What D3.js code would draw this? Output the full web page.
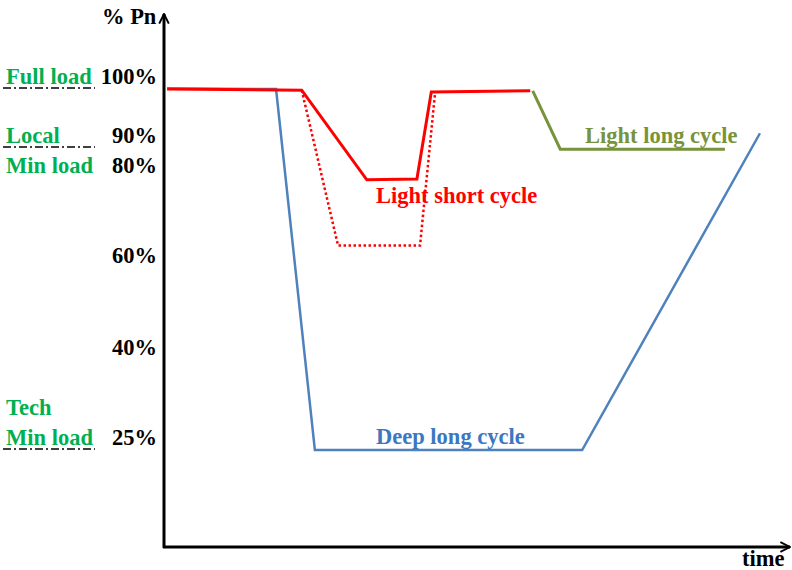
<!DOCTYPE html>
<html>
<head>
<meta charset="utf-8">
<script src="https://cdn.jsdelivr.net/npm/d3@7"></script>
<style>
  body { margin: 0; background: #fff; }
  svg { font-family: "Liberation Serif", "Times New Roman", serif; font-weight: bold; }
</style>
</head>
<body>
<svg id="chart" width="792" height="570"></svg>
<script>
// % of nominal power, y ticks
var tickValues = [25, 40, 60, 80, 90, 100];

// time (arbitrary units 0..100), load in % Pn
var lightShortT = [0.5, 22, 32.4, 40.4, 42.7, 58.5];
var lightShortV = [100, 99.8, 79.6, 79.8, 99.5, 99.7];

var lightShortAltT = [22, 27.8, 40.9, 43.3];
var lightShortAltV = [99.8, 65, 65, 99.3];

var lightLongT = [58.9, 63.3, 89.6];
var lightLongV = [99.7, 89.6, 89.6];

var deepLongT = [0.5, 17.9, 24.1, 66.8, 95.2];
var deepLongV = [100.1, 100, 25, 25, 92.5];

var levelNames = [["Full load"], ["Local", "Min load"], ["Tech", "Min load"]];
var levelValues = [100, 90, 25];

var svg = d3.select("#chart");
var fs = 22.5;

var x = d3.scaleLinear().domain([0, 100]).range([164, 790]);
// the original axis is not drawn to scale, piecewise mapping
var y = d3.scaleLinear()
    .domain([0, 25, 40, 60, 80, 90, 100])
    .range([547, 450, 360, 268, 178, 148, 89]);

function zip(t, v) {
    return t.map(function (d, i) { return [d, v[i]]; });
}

var line = d3.line()
    .x(function (d) { return x(d[0]); })
    .y(function (d) { return y(d[1]); });

// arrow markers
var defs = svg.append("defs");
defs.append("marker")
    .attr("id", "arrow")
    .attr("viewBox", "0 0 10 10")
    .attr("refX", 9).attr("refY", 5)
    .attr("markerWidth", 4).attr("markerHeight", 4)
    .attr("markerUnits", "strokeWidth")
    .attr("orient", "auto")
    .append("path")
    .attr("d", "M1,1 L9,5 L1,9")
    .attr("fill", "none")
    .attr("stroke", "#000")
    .attr("stroke-width", 1.6);

// dash-dot level lines on the left
svg.selectAll(".level")
    .data(levelValues)
    .enter()
    .append("line")
    .attr("class", "level")
    .attr("x1", 3).attr("x2", 95)
    .attr("y1", function (d) { return y(d) - 1; })
    .attr("y2", function (d) { return y(d) - 1; })
    .attr("stroke", "#000")
    .attr("stroke-width", 1.5)
    .attr("stroke-dasharray", "8,3,2,3");

// level names: one line above the level, "Local / Min load" straddles it
var nameOffsets = [[-5], [-5, 25], [-35, -5]];
levelNames.forEach(function (names, i) {
    names.forEach(function (n, j) {
        svg.append("text")
            .attr("x", 6)
            .attr("y", y(levelValues[i]) + nameOffsets[i][j])
            .attr("fill", "#00B050")
            .attr("font-size", fs)
            .text(n);
    });
});

// y tick labels
var yAxis = d3.axisLeft(y)
    .tickValues(tickValues)
    .tickSize(0)
    .tickPadding(7)
    .tickFormat(function (d) { return d + "%"; });

var gy = svg.append("g")
    .attr("transform", "translate(164,0)")
    .call(yAxis);
gy.select(".domain").remove();
gy.selectAll("text")
    .attr("font-family", "Liberation Serif, Times New Roman, serif")
    .attr("font-weight", "bold")
    .attr("font-size", fs)
    .attr("fill", "#000")
    .attr("dy", 0)
    .attr("y", -6);

// axes
svg.append("line")
    .attr("x1", 164).attr("y1", 548)
    .attr("x2", 164).attr("y2", 14)
    .attr("stroke", "#000").attr("stroke-width", 3)
    .attr("marker-end", "url(#arrow)");
svg.append("line")
    .attr("x1", 163).attr("y1", 547)
    .attr("x2", 790).attr("y2", 547)
    .attr("stroke", "#000").attr("stroke-width", 3)
    .attr("marker-end", "url(#arrow)");

svg.append("text")
    .attr("x", 102).attr("y", 24)
    .attr("font-size", fs)
    .text("% Pn");
svg.append("text")
    .attr("x", 742).attr("y", 566)
    .attr("font-size", fs)
    .text("time");

// series
svg.append("path")
    .attr("d", line(zip(deepLongT, deepLongV)))
    .attr("fill", "none")
    .attr("stroke", "#4F81BD")
    .attr("stroke-width", 2.5);

svg.append("path")
    .attr("d", line(zip(lightShortAltT, lightShortAltV)))
    .attr("fill", "none")
    .attr("stroke", "#FF0000")
    .attr("stroke-width", 2.5)
    .attr("stroke-dasharray", "2.5,2.5");

svg.append("path")
    .attr("d", line(zip(lightShortT, lightShortV)))
    .attr("fill", "none")
    .attr("stroke", "#FF0000")
    .attr("stroke-width", 3);

svg.append("path")
    .attr("d", line(zip(lightLongT, lightLongV)))
    .attr("fill", "none")
    .attr("stroke", "#77933C")
    .attr("stroke-width", 3);

// series labels
svg.append("text")
    .attr("x", 376).attr("y", 203)
    .attr("font-size", fs)
    .attr("fill", "#FF0000")
    .text("Light short cycle");
svg.append("text")
    .attr("x", 585).attr("y", 143)
    .attr("font-size", fs)
    .attr("fill", "#77933C")
    .text("Light long cycle");
svg.append("text")
    .attr("x", 376).attr("y", 444)
    .attr("font-size", fs)
    .attr("fill", "#3A78C2")
    .text("Deep long cycle");
</script>
</body>
</html>
